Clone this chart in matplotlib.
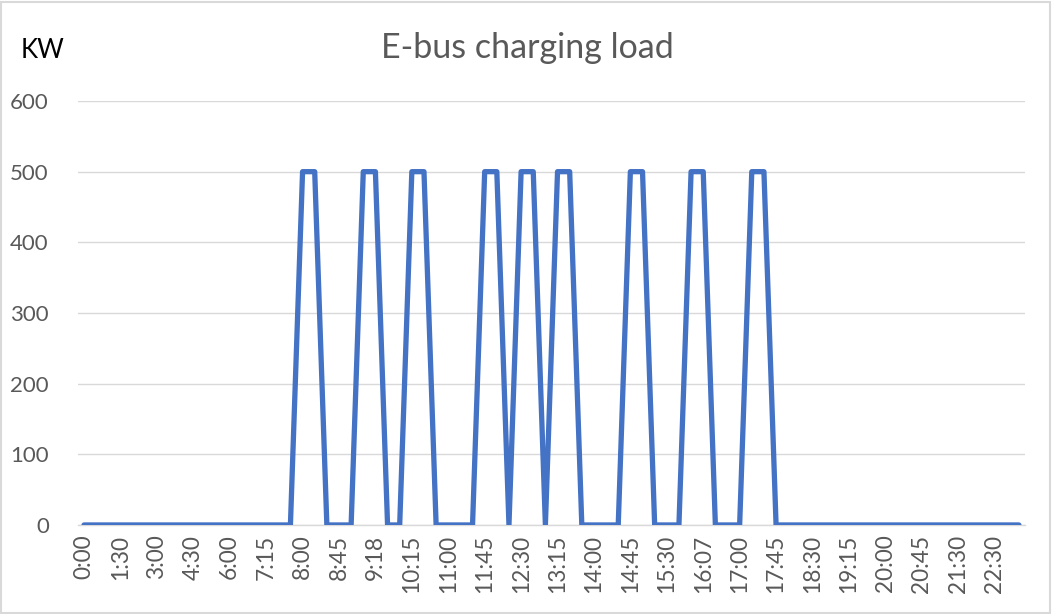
import matplotlib
matplotlib.use("Agg")
import matplotlib.pyplot as plt
from matplotlib.patches import Rectangle

# time categories (only every third one is labelled on the axis)
times = ["0:00", "0:30", "1:00", "1:30", "2:00", "2:30", "3:00", "3:30", "4:00",
         "4:30", "5:00", "5:30", "6:00", "6:30", "7:00", "7:15", "7:30", "7:45",
         "8:00", "8:15", "8:30", "8:45", "9:00", "9:10", "9:18", "9:45", "10:00",
         "10:15", "10:30", "10:45", "11:00", "11:15", "11:30", "11:45", "12:00", "12:15",
         "12:30", "12:45", "13:00", "13:15", "13:30", "13:45", "14:00", "14:15", "14:30",
         "14:45", "15:00", "15:15", "15:30", "15:45", "16:00", "16:07", "16:30", "16:45",
         "17:00", "17:15", "17:30", "17:45", "18:00", "18:15", "18:30", "18:45", "19:00",
         "19:15", "19:30", "19:45", "20:00", "20:15", "20:30", "20:45", "21:00", "21:15",
         "21:30", "22:00", "22:15", "22:30", "23:00", "23:30"]

# charging load in kW
load = [0, 0, 0, 0, 0, 0, 0, 0, 0, 0, 0, 0, 0, 0, 0, 0, 0, 0,
        500, 500, 0, 0, 0, 500, 500, 0, 0, 500, 500, 0, 0, 0, 0,
        500, 500, 0, 500, 500, 0, 500, 500, 0, 0, 0, 0, 500, 500,
        0, 0, 0, 500, 500, 0, 0, 0, 500, 500, 0,
        0, 0, 0, 0, 0, 0, 0, 0, 0, 0, 0, 0, 0, 0, 0, 0, 0, 0, 0, 0]

font = ["Lato", "DejaVu Sans"]
grey = "#595959"

fig = plt.figure(figsize=(10.52, 6.14), dpi=100)
ax = fig.add_axes([0.0741, 0.145, 0.9002, 0.6905])

x = list(range(len(times)))
ax.plot(x, load, color="#4472C4", linewidth=3.8, solid_joinstyle="round",
        solid_capstyle="round", zorder=3)

ax.set_xlim(-0.5, len(times) - 0.5)
ax.set_ylim(0, 600)
ax.set_yticks(range(0, 601, 100))
ax.set_xticks(x[::3])
ax.set_xticklabels(times[::3], rotation=90, family=font, fontsize=16.3, color=grey)
for lab in ax.get_yticklabels():
    lab.set_family(font)
    lab.set_fontsize(16)
    lab.set_color(grey)
ax.tick_params(axis="both", length=0)
ax.tick_params(axis="y", pad=21)
ax.tick_params(axis="x", pad=7)

ax.grid(axis="y", color="#d9d9d9", linewidth=1.0)
ax.set_axisbelow(True)
for s in ["top", "right", "left"]:
    ax.spines[s].set_visible(False)
ax.spines["bottom"].set_color("#d9d9d9")
ax.spines["bottom"].set_linewidth(1.0)

fig.text(0.501, 0.922, "E-bus charging load", ha="center", va="center",
         family=font, fontsize=24.5, color=grey)
fig.text(0.020, 0.917, "KW", ha="left", va="center", family=font,
         fontsize=18.5, color="black")

fig.patches.append(Rectangle((0.001, 0.002), 0.997, 0.995, transform=fig.transFigure,
                             fill=False, edgecolor="#d9d9d9", linewidth=1.5))

fig.savefig("out.png", dpi=100)
